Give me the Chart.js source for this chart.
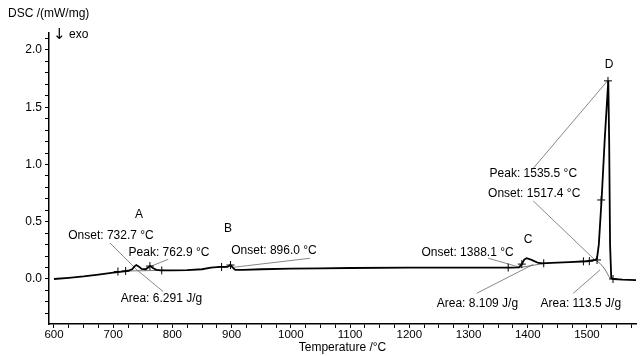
<!DOCTYPE html>
<html>
<head>
<meta charset="utf-8">
<script src="https://cdn.jsdelivr.net/npm/chart.js@4.4.1/dist/chart.umd.min.js"></script>
<style>
  body { margin: 0; background: #fff; }
  #wrap { width: 642px; height: 356px; }
</style>
</head>
<body>
<div id="wrap"><canvas id="dsc" width="642" height="356"></canvas></div>
<script>
// DSC curve (temperature in °C, signal in mW/mg)
const temps = [600, 625, 650, 675, 700, 715, 725, 732, 736, 739, 743, 748, 755, 760, 763, 767, 773, 780,
  800, 825, 850, 865, 880, 893, 898, 902, 906, 920, 950, 1000, 1050, 1100, 1200, 1300, 1370, 1385,
  1390, 1394, 1398, 1404, 1410, 1418, 1425, 1440, 1470, 1500, 1514, 1517, 1520, 1525, 1530, 1536,
  1537.5, 1539, 1541, 1545, 1560, 1583];
const dsc = [0.0, 0.01, 0.022, 0.038, 0.055, 0.065, 0.072, 0.085, 0.11, 0.122, 0.11, 0.088, 0.085, 0.105, 0.113, 0.095, 0.08, 0.075,
  0.075, 0.078, 0.085, 0.1, 0.105, 0.105, 0.122, 0.1, 0.08, 0.08, 0.085, 0.09, 0.093, 0.096, 0.1, 0.1, 0.1, 0.102,
  0.13, 0.17, 0.182, 0.172, 0.158, 0.14, 0.136, 0.14, 0.148, 0.155, 0.166, 0.18, 0.3, 0.72, 1.22, 1.73,
  1.2, 0.3, 0.01, 0.0, -0.005, -0.01];

// "+" evaluation markers on the curve
const markT = [708, 721, 762, 782, 883, 898, 1367, 1390, 1427, 1494, 1504, 1517, 1524, 1535.5, 1544];
const markV = [0.065, 0.07, 0.113, 0.075, 0.105, 0.122, 0.1, 0.13, 0.137, 0.154, 0.156, 0.166, 0.69, 1.73, 0.0];

// thin baselines under the peaks
const baseAT = [722, 785];
const baseAV = [0.07, 0.075];
const baseCT = [1384, 1426];
const baseCV = [0.098, 0.134];
const baseDT = [1514, 1522, 1531, 1539, 1544];
const baseDV = [0.166, 0.137, 0.079, 0.006, -0.005];

// axis ticks
const xMajor = [600, 700, 800, 900, 1000, 1100, 1200, 1300, 1400, 1500];
const xTickStep = 25;
const yMajor = [0.0, 0.5, 1.0, 1.5, 2.0];
const yTickStep = 0.1;

// annotation texts and where they sit (data coordinates)
const noteText = ['A', 'B', 'C', 'D',
  'Onset: 732.7 °C', 'Peak: 762.9 °C', 'Area: 6.291 J/g', 'Onset: 896.0 °C',
  'Onset: 1388.1 °C', 'Area: 8.109 J/g', 'Area: 113.5 J/g', 'Peak: 1535.5 °C', 'Onset: 1517.4 °C'];
const noteT = [743.5, 893.8, 1400.4, 1537.2, 696.3, 794.2, 781.5, 971.5, 1298.3, 1315, 1489.6, 1409.4, 1410.9];
const noteV = [0.559, 0.437, 0.341, 1.869, 0.376, 0.227, -0.169, 0.245, 0.23, -0.212, -0.212, 0.923, 0.742];

// leader lines from the texts to the curve
const leadFromT = [694.6, 740.2, 793, 1032.3, 1333.4, 1313.8, 1476.9, 1409.4, 1409.4];
const leadFromV = [0.314, 0.079, 0.172, 0.181, 0.181, -0.125, -0.125, 0.967, 0.681];
const leadToT = [740.2, 784.6, 765, 902.8, 1386.9, 1409.4, 1522, 1535, 1513.5];
const leadToV = [0.079, -0.111, 0.114, 0.102, 0.102, 0.128, 0.079, 1.732, 0.166];

const xTicks = [];
for (let v = 600; v <= 1575; v += xTickStep) xTicks.push(v);
const yTicks = [];
for (let k = -3; k <= 21; k++) yTicks.push(Math.round(k * yTickStep * 10) / 10);

const pts = (a, b) => a.map((t, i) => ({x: t, y: b[i]}));

Chart.defaults.font.family = '"Liberation Sans", Arial, sans-serif';
Chart.defaults.color = '#000';

const notes = {
  id: 'notes',
  beforeDatasetsDraw(chart) {
    const {ctx, scales: {x, y}} = chart;
    ctx.save();
    ctx.strokeStyle = '#6a6a6a';
    ctx.lineWidth = 0.8;
    for (let i = 0; i < leadFromT.length; i++) {
      ctx.beginPath();
      ctx.moveTo(x.getPixelForValue(leadFromT[i]), y.getPixelForValue(leadFromV[i]));
      ctx.lineTo(x.getPixelForValue(leadToT[i]), y.getPixelForValue(leadToV[i]));
      ctx.stroke();
    }
    ctx.restore();
  },
  afterDatasetsDraw(chart) {
    const {ctx, scales: {x, y}} = chart;
    ctx.save();
    ctx.fillStyle = '#000';
    ctx.font = '12px "Liberation Sans", Arial, sans-serif';
    ctx.textAlign = 'center';
    ctx.textBaseline = 'middle';
    noteText.forEach((t, i) => ctx.fillText(t, x.getPixelForValue(noteT[i]), y.getPixelForValue(noteV[i])));
    ctx.textAlign = 'left';
    ctx.fillText('DSC /(mW/mg)', 8, 14);
    ctx.fillText('exo', 69, 35);
    ctx.font = '15px "DejaVu Sans", sans-serif';
    ctx.fillText('↓', 53, 35);
    ctx.restore();
  }
};

new Chart(document.getElementById('dsc'), {
  type: 'line',
  data: {
    datasets: [
      {data: pts(temps, dsc), borderColor: '#000', borderWidth: 1.8, pointRadius: 0, tension: 0, order: 2},
      {data: pts(baseAT, baseAV), borderColor: '#555', borderWidth: 0.8, pointRadius: 0, order: 3},
      {data: pts(baseCT, baseCV), borderColor: '#555', borderWidth: 0.8, pointRadius: 0, order: 3},
      {data: pts(baseDT, baseDV), borderColor: '#555', borderWidth: 0.8, pointRadius: 0, tension: 0.3, order: 3},
      {data: pts(markT, markV), showLine: false, pointStyle: 'cross', pointRadius: 4,
        pointBorderColor: '#000', pointBorderWidth: 1, order: 1}
    ]
  },
  options: {
    responsive: false,
    animation: false,
    layout: {padding: {left: 0, right: 6, top: 33, bottom: 0}},
    plugins: {legend: {display: false}, tooltip: {enabled: false}},
    scales: {
      x: {
        type: 'linear',
        min: 591.6,
        max: 1582.8,
        border: {color: '#000', width: 1.5},
        grid: {drawOnChartArea: false, tickLength: 4, color: '#000'},
        ticks: {
          autoSkip: false, maxRotation: 0, padding: 0, font: {size: 11.5},
          callback: v => xMajor.includes(v) ? String(v) : ''
        },
        afterBuildTicks: s => { s.ticks = xTicks.map(v => ({value: v})); },
        afterFit: s => { s.height = 32; },
        title: {display: true, text: 'Temperature /°C', font: {size: 12}, padding: {top: 0, bottom: 1}}
      },
      y: {
        type: 'linear',
        min: -0.393,
        max: 2.148,
        border: {color: '#000', width: 1.5},
        grid: {drawOnChartArea: false, tickLength: 4, color: '#000'},
        ticks: {
          autoSkip: false, padding: 3, font: {size: 12},
          callback: v => yMajor.some(m => Math.abs(m - v) < 1e-6) ? v.toFixed(1) : ''
        },
        afterBuildTicks: s => { s.ticks = yTicks.map(v => ({value: v})); },
        afterFit: s => { s.width = 49; }
      }
    }
  },
  plugins: [notes]
});
</script>
</body>
</html>
